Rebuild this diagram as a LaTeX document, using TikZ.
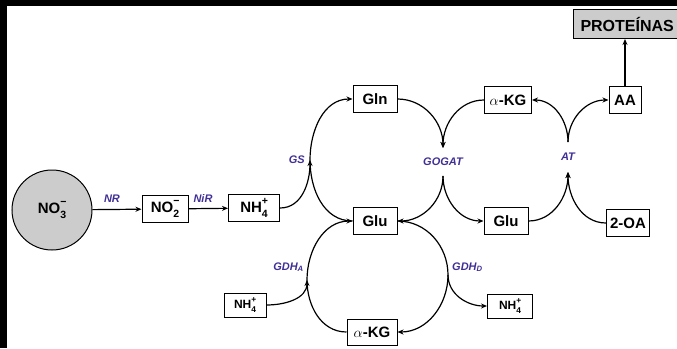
\documentclass[tikz,border=0pt]{standalone}
\usepackage{fontspec}
\usepackage{amsmath}
\usepackage{graphicx}
\setmainfont{Liberation Sans}
\usetikzlibrary{positioning,arrows.meta}

\definecolor{enzblue}{RGB}{64,48,150}
\definecolor{poolgray}{RGB}{204,204,204}

\newcommand{\ion}[3]{#1\makebox[0pt][l]{\raisebox{0.52em}{\scalebox{0.7}{#3}}}\raisebox{-0.35em}{\scalebox{0.7}{#2}}}

\tikzset{
  box/.style={draw, line width=1pt, font=\bfseries\fontsize{15}{15}\selectfont,
    minimum width=44pt, minimum height=27pt, inner sep=2pt},
  sbox/.style={box, font=\bfseries\fontsize{12}{12}\selectfont,
    minimum width=42pt, minimum height=24pt},
  pool/.style={circle, draw, line width=1pt, fill=poolgray, minimum size=80pt,
    inner sep=0pt, font=\bfseries\fontsize{15}{15}\selectfont},
  enz/.style={text=enzblue, font=\bfseries\itshape\fontsize{11}{11}\selectfont, inner sep=1pt},
  flow/.style={line width=1.2pt, -{Stealth[length=6pt,width=5pt]}}
}

\begin{document}
\begin{tikzpicture}[x=1pt,y=-1pt]
  \useasboundingbox (0,0) rectangle (677,348);
  \fill (0,0) rectangle (677,6);
  \fill (0,0) rectangle (7,348);

  % Define nodes
  \node[pool] (no3) at (52,210) {\ion{NO}{3}{−}};
  \node[box, minimum width=46pt] (no2) at (165,209) {\ion{NO}{2}{−}};
  \node[box, minimum width=51pt] (nh4) at (254,208) {\ion{NH}{4}{+}};
  \node[box] (gln) at (375,99) {Gln};
  \node[box] (glu) at (375,221) {Glu};
  \node[box, minimum width=47pt] (akg) at (508,100) {$\alpha$-KG};
  \node[box] (glu2) at (506,221) {Glu};
  \node[box, minimum width=32pt] (aa) at (625,100) {AA};
  \node[box, minimum width=43pt] (oa) at (628,223) {2-OA};
  \node[box, fill=poolgray, anchor=west, minimum height=29pt, inner xsep=7pt,
    text width=100pt, align=left, font=\bfseries\fontsize{16}{16}\selectfont] (prot) at (573,24) {PROTEÍNAS};
  \node[box, minimum width=50pt, minimum height=26pt] (akg2) at (372,332) {$\alpha$-KG};
  \node[sbox] (nh4a) at (245,305) {\ion{NH}{4}{+}};
  \node[sbox, minimum width=45pt] (nh4d) at (510,306) {\ion{NH}{4}{+}};

  % Branch points
  \coordinate (gs) at (310,160);
  \coordinate (gogat1) at (443,148);
  \coordinate (gogat2) at (443,176);
  \coordinate (at1) at (568,172);
  \coordinate (at2) at (568,142);
  \coordinate (gdha) at (307,280);
  \coordinate (gdhd) at (448,275);

  % Enzymes
  \node[enz] (lnr) at (112,199) {NR};
  \node[enz] (lnir) at (203,199) {NiR};
  \node[enz, left=4pt of gs] (lgs) {GS};
  \node[enz] (lgogat) at (443,162) {GOGAT};
  \node[enz] (lat) at (568,157) {AT};
  \node[enz, anchor=east] (lgdha) at (305,267) {GDH$_{\text{A}}$};
  \node[enz, anchor=west] (lgdhd) at (451,267) {GDH$_{\text{D}}$};

  % Connect the nodes
  \draw[flow] (no3) -- (no2);
  \draw[flow] (no2) -- (nh4);
  \draw[flow] (nh4.east) to[out=0,in=270] (gs);
  \draw[flow] (glu.west) to[out=180,in=270] (gs) to[out=90,in=180] (gln.west);
  \draw[flow] (gln.east) to[out=0,in=90] (gogat1);
  \draw[flow] (akg.west) to[out=180,in=90] (gogat1);
  \draw[flow] (gogat2) to[out=270,in=0] (glu.east);
  \draw[flow] (gogat2) to[out=270,in=180] (glu2.west);
  \draw[flow] (glu2.east) to[out=0,in=270] (at1);
  \draw[flow] (oa.west) to[out=180,in=270] (at1);
  \draw[flow] (at2) to[out=90,in=0] (akg.east);
  \draw[flow] (at2) to[out=90,in=180] (aa.west);
  \draw[flow] (aa) -- (aa |- prot.south);
  \draw[flow] (nh4a.east) to[out=0,in=270] (gdha);
  \draw[flow] (akg2.west) to[out=180,in=270] (gdha) to[out=90,in=180] (glu.west);
  \draw[flow] (glu.east) to[out=0,in=90] (gdhd) to[out=270,in=0] (akg2.east);
  \draw[flow] (gdhd) to[out=270,in=180] (nh4d.west);

\end{tikzpicture}
\end{document}
